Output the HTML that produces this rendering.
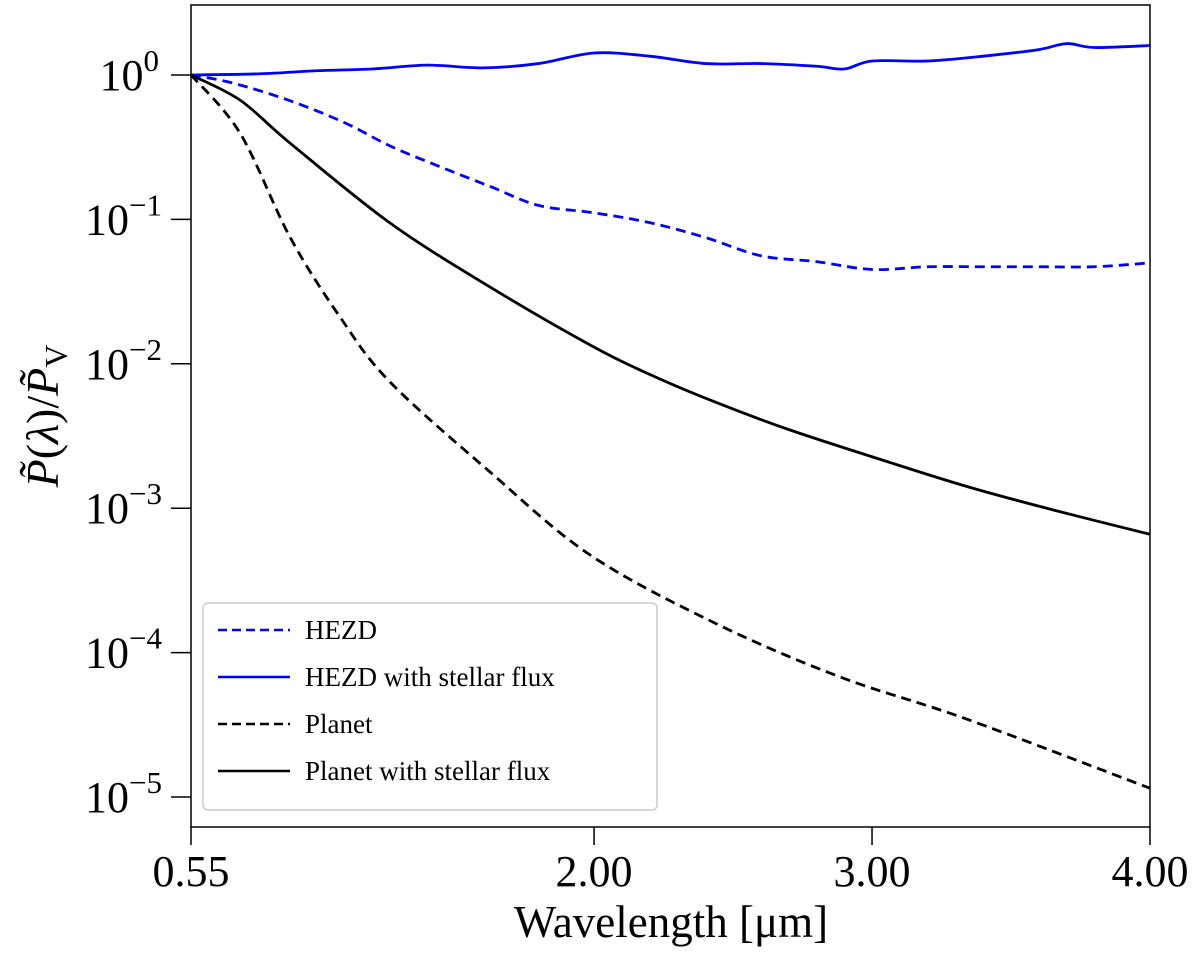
<!DOCTYPE html>
<html><head><meta charset="utf-8"><style>
html,body{margin:0;padding:0;background:#fff;}
svg text{font-family:"Liberation Serif",serif;fill:#000;}
</style></head><body>
<svg width="1200" height="957" viewBox="0 0 1200 957" xmlns="http://www.w3.org/2000/svg">
<g id="series"></g>
<rect x="191" y="5" width="959" height="822" fill="none" stroke="#000" stroke-width="1.5"/>
<g id="ticks"></g>
<text x="671" y="937" font-size="45" text-anchor="middle">Wavelength [μm]</text>
<text transform="translate(58,416) rotate(-90)" font-size="46" text-anchor="middle"><tspan font-style="italic">P̃</tspan>(<tspan font-style="italic">λ</tspan>)/<tspan font-style="italic">P̃</tspan><tspan font-size="32" dy="9">V</tspan></text>
<g>
<rect x="203" y="603" width="454" height="207" rx="5" fill="#fff" stroke="#ccc" stroke-width="1.5"/>
<g><line x1="218" y1="630" x2="290" y2="630" stroke="#0000ff" stroke-width="2.5" stroke-dasharray="9,5"/><text x="305" y="639" font-size="27">HEZD</text></g>
<g><line x1="218" y1="677" x2="290" y2="677" stroke="#0000ff" stroke-width="2.5"/><text x="305" y="686" font-size="27">HEZD with stellar flux</text></g>
<g><line x1="218" y1="724" x2="290" y2="724" stroke="#000" stroke-width="2.5" stroke-dasharray="9,5"/><text x="305" y="733" font-size="27">Planet</text></g>
<g><line x1="218" y1="771" x2="290" y2="771" stroke="#000" stroke-width="2.5"/><text x="305" y="780" font-size="27">Planet with stellar flux</text></g>
</g>
</svg>
<script>
const xTicks=[0.55,2.00,3.00,4.00];
const xTickLabels=["0.55","2.00","3.00","4.00"];
const yTickExps=[0,-1,-2,-3,-4,-5];
const hezdX=[0.55,0.7,0.9,1.1,1.27,1.45,1.63,1.8,2.0,2.2,2.4,2.6,2.8,3.0,3.2,3.4,3.6,3.8,4.0];
const hezdY=[1.0,0.88,0.67,0.47,0.32,0.23,0.168,0.125,0.111,0.095,0.075,0.056,0.051,0.045,0.047,0.047,0.047,0.047,0.050];
const hezdStarX=[0.55,0.8,1.0,1.2,1.4,1.6,1.8,2.0,2.2,2.4,2.6,2.8,2.9,3.0,3.2,3.4,3.6,3.7,3.8,4.0];
const hezdStarY=[1.0,1.02,1.07,1.1,1.17,1.12,1.2,1.42,1.35,1.2,1.2,1.15,1.1,1.25,1.25,1.35,1.5,1.65,1.55,1.6];
const planetStarX=[0.55,0.726,0.906,1.266,1.626,1.986,2.205,2.435,2.705,3.09,3.349,3.654,4.0];
const planetStarY=[1.0,0.671,0.338,0.0944,0.034,0.0135,0.00836,0.00544,0.00348,0.0020,0.0014,0.00097,0.00066];
const planetX=[0.55,0.726,0.906,1.086,1.266,1.626,1.986,2.435,2.885,3.334,4.0];
const planetY=[1.0,0.397,0.0755,0.0211,0.00748,0.00178,0.000474,0.00016,0.0000678,0.000035,0.0000115];
const NS="http://www.w3.org/2000/svg";
function sx(v){return 191+(v-0.55)*(959/3.45);}
function sy(v){return 75-Math.log10(v)*144.4;}
function path(xs,ys){
  const p=xs.map((x,i)=>[sx(x),sy(ys[i])]);
  let d="M"+p[0][0]+","+p[0][1];
  for(let i=0;i<p.length-1;i++){
    const p0=p[Math.max(0,i-1)],p1=p[i],p2=p[i+1],p3=p[Math.min(p.length-1,i+2)];
    const c1=[p1[0]+(p2[0]-p0[0])/6,p1[1]+(p2[1]-p0[1])/6];
    const c2=[p2[0]-(p3[0]-p1[0])/6,p2[1]-(p3[1]-p1[1])/6];
    d+=" C"+c1+" "+c2+" "+p2;
  }
  return d;
}
const g=document.getElementById('series');
function addLine(xs,ys,col,dash,name){
  const el=document.createElementNS(NS,'path');
  el.setAttribute('d',path(xs,ys));
  el.setAttribute('fill','none');el.setAttribute('stroke',col);el.setAttribute('stroke-width','2.8');
  if(dash)el.setAttribute('stroke-dasharray','10,6');
  
  
  g.appendChild(el);
}
addLine(hezdX,hezdY,'#0000ff',true,'hezd-line');
addLine(hezdStarX,hezdStarY,'#0000ff',false,'hezd-stellar-line');
addLine(planetX,planetY,'#000',true,'planet-line');
addLine(planetStarX,planetStarY,'#000',false,'planet-stellar-line');
const t=document.getElementById('ticks');
xTicks.forEach((v,i)=>{
  const l=document.createElementNS(NS,'line');
  l.setAttribute('x1',sx(v));l.setAttribute('x2',sx(v));l.setAttribute('y1',827);l.setAttribute('y2',845);
  l.setAttribute('stroke','#000');l.setAttribute('stroke-width','1.5');
  
  
  t.appendChild(l);
  const tx=document.createElementNS(NS,'text');
  tx.setAttribute('x',sx(v));tx.setAttribute('y',886);tx.setAttribute('font-size','44');tx.setAttribute('text-anchor','middle');
  tx.textContent=xTickLabels[i];
  
  
  t.appendChild(tx);
});
yTickExps.forEach(e=>{
  const y=sy(Math.pow(10,e));
  const l=document.createElementNS(NS,'line');
  l.setAttribute('x1',171);l.setAttribute('x2',191);l.setAttribute('y1',y);l.setAttribute('y2',y);
  l.setAttribute('stroke','#000');l.setAttribute('stroke-width','1.5');
  
  
  t.appendChild(l);
  const tx=document.createElementNS(NS,'text');
  tx.setAttribute('x',e===0?159:162);tx.setAttribute('y',y+15);tx.setAttribute('font-size','44');tx.setAttribute('text-anchor','end');
  tx.innerHTML='10<tspan font-size="31" dy="-19">'+(e===0?'0':'\u2212'+(-e))+'</tspan>';
  
  
  t.appendChild(tx);
});
</script>
</body></html>
